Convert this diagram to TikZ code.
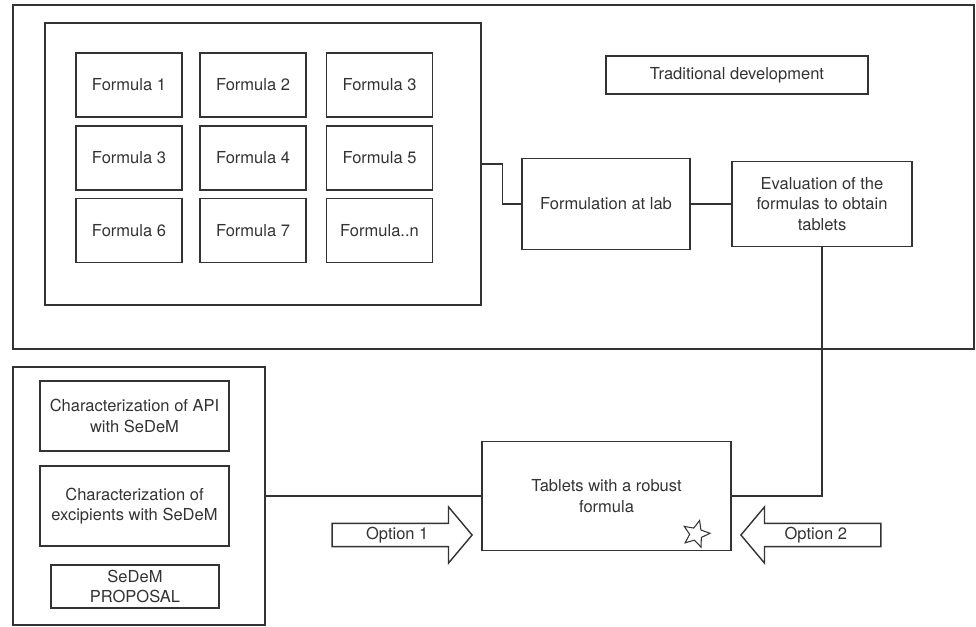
\documentclass[tikz,border=0pt]{standalone}
\usepackage{fontspec}
\setmainfont{TeX Gyre Heros}
\usepackage{xcolor}
\definecolor{ink}{RGB}{51,51,51}
\usepackage{tikz}
\usetikzlibrary{
  positioning,
  shapes.arrows,
  shapes.geometric
}

\begin{document}
\begin{tikzpicture}[
  x=0.02cm, y=-0.02cm,
  every node/.style={font=\fontsize{9.4}{11.7}\selectfont, text=ink},
  frame/.style={
    draw=ink,
    line width=0.8pt,
    rectangle,
    inner sep=0pt
  },
  box/.style={
    draw=ink,
    line width=0.8pt,
    rectangle,
    align=center,
    inner sep=2pt
  },
  formula/.style={box, minimum width=2.12cm, minimum height=1.28cm},
  option/.style={
    single arrow,
    draw=ink,
    line width=0.8pt,
    single arrow head extend=0.33cm,
    single arrow tip angle=100,
    minimum height=2.8cm,
    text height=6.7pt,
    text depth=1.9pt,
    inner ysep=1.9pt,
    inner xsep=0pt
  },
  link/.style={draw=ink, line width=0.8pt}
]
\useasboundingbox (0,0) rectangle (976,626);

  % traditional development
  \node[frame, minimum width=19.22cm, minimum height=6.88cm] (trad) at (493.5,177) {};
  \node[frame, minimum width=8.72cm, minimum height=5.64cm] (pool) at (263,164) {};
  \node[box, minimum width=5.24cm, minimum height=0.76cm] (title) at (737,75) {Traditional development};

  \node[formula] (f1) at (129,85)    {Formula 1};
  \node[formula] (f2) at (253,85)    {Formula 2};
  \node[formula] (f3) at (379.5,85)  {Formula 3};
  \node[formula] (f4) at (129,158)   {Formula 3};
  \node[formula] (f5) at (253,158)   {Formula 4};
  \node[formula] (f6) at (379.5,158) {Formula 5};
  \node[formula] (f7) at (129,230.5) {Formula 6};
  \node[formula] (f8) at (253,230.5) {Formula 7};
  \node[formula] (f9) at (379.5,230.5) {Formula..n};

  \node[box, minimum width=3.36cm, minimum height=1.82cm] (lab) at (606,204) {Formulation at lab};
  \node[box, minimum width=3.6cm, minimum height=1.7cm] (eval) at (822,204)
    {Evaluation of the\\formulas to obtain\\tablets};

  % SeDeM proposal
  \node[frame, minimum width=5.04cm, minimum height=5.16cm] (sedem) at (139,496) {};
  \node[box, minimum width=3.78cm, minimum height=1.4cm] (api) at (134.5,416)
    {Characterization of API\\with SeDeM};
  \node[box, minimum width=3.78cm, minimum height=1.6cm] (excip) at (134.5,506)
    {Characterization of\\excipients with SeDeM};
  \node[box, minimum width=3.36cm, minimum height=0.86cm] (proposal) at (135,586.5)
    {SeDeM\\PROPOSAL};

  % result
  \node[box, minimum width=4.98cm, minimum height=2.18cm] (tablets) at (606.5,496)
    {Tablets with a robust\\formula};
  \node[star, star points=5, star point ratio=2.2, draw=ink, line width=0.6pt,
        minimum size=0.56cm, inner sep=0pt, rotate=-15] (mark) at (696,534) {};

  \node[option, anchor=tip] (opt1) at (473,535) {Option 1};
  \node[option, shape border rotate=180, anchor=tip] (opt2) at (740,535) {Option 2};

  \draw[link] (pool.east) -- ++(21,0) |- (lab.west);
  \draw[link] (lab.east) -- (eval.west);
  \draw[link] (eval.south) |- (tablets.east);
  \draw[link] (sedem.east) -- (tablets.west);

\end{tikzpicture}
\end{document}
